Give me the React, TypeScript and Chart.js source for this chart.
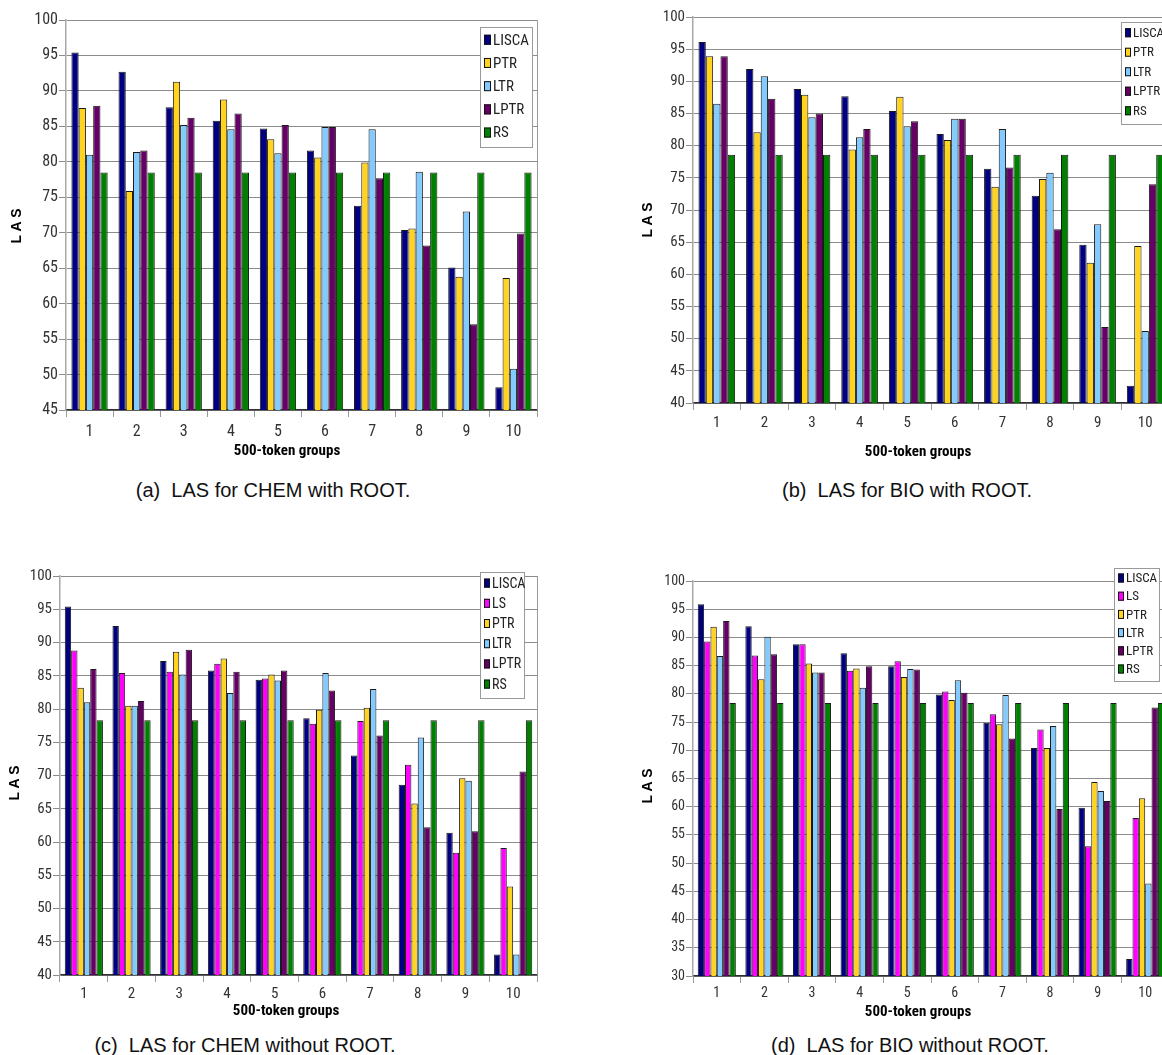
import React, { useEffect, useRef } from 'react';
import { Chart, registerables } from 'chart.js';

Chart.register(...registerables);

// ---------------- data ----------------
const CATEGORIES = ['1', '2', '3', '4', '5', '6', '7', '8', '9', '10'];

// (a) LAS for CHEM with ROOT
const A_LISCA = [95.4, 92.7, 87.7, 85.8, 84.7, 81.6, 73.8, 70.4, 65.1, 48.2];
const A_PTR = [87.6, 75.9, 91.3, 88.8, 83.2, 80.6, 79.9, 70.6, 63.8, 63.6];
const A_LTR = [81.0, 81.4, 85.2, 84.6, 81.2, 84.9, 84.6, 78.6, 73.0, 50.8];
const A_LPTR = [87.9, 81.6, 86.2, 86.8, 85.2, 84.9, 77.7, 68.2, 57.1, 69.9];
const A_RS = [78.5, 78.5, 78.5, 78.5, 78.5, 78.5, 78.5, 78.5, 78.5, 78.5];

// (b) LAS for BIO with ROOT
const B_LISCA = [96.1, 91.9, 88.8, 87.7, 85.4, 81.8, 76.4, 72.2, 64.6, 42.7];
const B_PTR = [93.9, 82.1, 87.9, 79.4, 87.6, 80.9, 73.6, 74.8, 61.8, 64.4];
const B_LTR = [86.5, 90.8, 84.4, 81.3, 83.0, 84.2, 82.6, 75.8, 67.8, 51.2];
const B_LPTR = [93.9, 87.3, 85.0, 82.6, 83.8, 84.2, 76.6, 67.0, 51.8, 74.0];
const B_RS = [78.6, 78.6, 78.6, 78.6, 78.6, 78.6, 78.6, 78.6, 78.6, 78.6];

// (c) LAS for CHEM without ROOT
const C_LISCA = [95.4, 92.5, 87.2, 85.8, 84.4, 78.6, 73.0, 68.6, 61.4, 43.1];
const C_LS = [88.8, 85.4, 85.6, 86.8, 84.6, 77.8, 78.2, 71.6, 58.4, 59.1];
const C_PTR = [83.2, 80.5, 88.6, 87.6, 85.2, 79.9, 80.2, 65.8, 69.6, 53.3];
const C_LTR = [81.0, 80.5, 85.2, 82.4, 84.3, 85.4, 83.0, 75.7, 69.2, 43.1];
const C_LPTR = [86.0, 81.2, 88.9, 85.6, 85.8, 82.8, 76.0, 62.2, 61.6, 70.6];
const C_RS = [78.3, 78.3, 78.3, 78.3, 78.3, 78.3, 78.3, 78.3, 78.3, 78.3];

// (d) LAS for BIO without ROOT
const D_LISCA = [95.9, 92.0, 88.8, 87.2, 84.9, 79.9, 74.9, 70.4, 59.8, 33.0];
const D_LS = [89.3, 86.8, 88.8, 84.1, 85.8, 80.4, 76.4, 73.7, 53.0, 58.0];
const D_PTR = [91.9, 82.6, 85.4, 84.5, 83.0, 78.9, 74.6, 70.4, 64.4, 61.5];
const D_LTR = [86.7, 90.1, 83.8, 81.1, 84.4, 82.4, 79.8, 74.3, 62.8, 46.4];
const D_LPTR = [92.9, 87.0, 83.8, 84.9, 84.3, 80.2, 72.1, 59.6, 61.0, 77.6];
const D_RS = [78.4, 78.4, 78.4, 78.4, 78.4, 78.4, 78.4, 78.4, 78.4, 78.4];

const Y_TITLE = 'LAS';
const X_TITLE = '500-token groups';
const CAPTIONS = [
  '(a)\u00a0 LAS for CHEM with ROOT.',
  '(b)\u00a0 LAS for BIO with ROOT.',
  '(c)\u00a0 LAS for CHEM without ROOT.',
  '(d)\u00a0 LAS for BIO without ROOT.',
];

// ---------------- styles ----------------
const COLORS: Record<string, string> = {
  LISCA: '#000080',
  LS: '#ff00ff',
  PTR: '#ffd320',
  LTR: '#83caff',
  LPTR: '#660066',
  RS: '#008000',
};

const NARROW = "'Roboto Condensed', 'Liberation Sans Narrow', 'Liberation Sans', sans-serif";
const SANS = "'Liberation Sans', Arial, Helvetica, sans-serif";

type Series = { label: string; data: number[] };

type Panel = {
  series: Series[];
  yMin: number;
  yMax: number;
  canvas: { left: number; top: number; width: number; height: number };
  plot: { left: number; top: number; right: number; bottom: number };
  catPct: number;
  tickFont: number;
  tickPad: number;
  yTitlePos: { x: number; y: number };
  xTitlePos: { x: number; y: number };
  legend: { x: number; y: number; w: number; h: number; row: number; font: number; mw: number; mh: number };
  caption: { text: string; cx: number; cy: number };
};

const PANELS: Panel[] = [
  {
    series: [
      { label: 'LISCA', data: A_LISCA },
      { label: 'PTR', data: A_PTR },
      { label: 'LTR', data: A_LTR },
      { label: 'LPTR', data: A_LPTR },
      { label: 'RS', data: A_RS },
    ],
    yMin: 45, yMax: 100,
    canvas: { left: 0, top: 0, width: 545, height: 470 },
    plot: { left: 66, top: 20, right: 537, bottom: 410 },
    catPct: 0.77, tickFont: 16, tickPad: 5,
    yTitlePos: { x: 17, y: 226 },
    xTitlePos: { x: 287, y: 451 },
    legend: { x: 480, y: 27, w: 52, h: 120, row: 23.2, font: 15, mw: 7, mh: 10 },
    caption: { text: CAPTIONS[0], cx: 273, cy: 490 },
  },
  {
    series: [
      { label: 'LISCA', data: B_LISCA },
      { label: 'PTR', data: B_PTR },
      { label: 'LTR', data: B_LTR },
      { label: 'LPTR', data: B_LPTR },
      { label: 'RS', data: B_RS },
    ],
    yMin: 40, yMax: 100,
    canvas: { left: 560, top: 0, width: 620, height: 470 },
    plot: { left: 693, top: 17, right: 1169, bottom: 403 },
    catPct: 0.77, tickFont: 15, tickPad: 4,
    yTitlePos: { x: 648, y: 220 },
    xTitlePos: { x: 918, y: 452 },
    legend: { x: 1121, y: 22, w: 52, h: 102, row: 19.5, font: 13, mw: 6, mh: 9 },
    caption: { text: CAPTIONS[1], cx: 907, cy: 490 },
  },
  {
    series: [
      { label: 'LISCA', data: C_LISCA },
      { label: 'LS', data: C_LS },
      { label: 'PTR', data: C_PTR },
      { label: 'LTR', data: C_LTR },
      { label: 'LPTR', data: C_LPTR },
      { label: 'RS', data: C_RS },
    ],
    yMin: 40, yMax: 100,
    canvas: { left: 0, top: 530, width: 545, height: 500 },
    plot: { left: 60, top: 576, right: 537, bottom: 975 },
    catPct: 0.8, tickFont: 15, tickPad: 3,
    yTitlePos: { x: 15, y: 783 },
    xTitlePos: { x: 286, y: 1011 },
    legend: { x: 480, y: 572, w: 44, h: 126, row: 20.2, font: 14, mw: 6, mh: 9 },
    caption: { text: CAPTIONS[2], cx: 245, cy: 1045 },
  },
  {
    series: [
      { label: 'LISCA', data: D_LISCA },
      { label: 'LS', data: D_LS },
      { label: 'PTR', data: D_PTR },
      { label: 'LTR', data: D_LTR },
      { label: 'LPTR', data: D_LPTR },
      { label: 'RS', data: D_RS },
    ],
    yMin: 30, yMax: 100,
    canvas: { left: 560, top: 530, width: 620, height: 500 },
    plot: { left: 693, top: 581, right: 1169, bottom: 976 },
    catPct: 0.8, tickFont: 14, tickPad: 2,
    yTitlePos: { x: 648, y: 786 },
    xTitlePos: { x: 918, y: 1012 },
    legend: { x: 1114, y: 568, w: 45, h: 113, row: 18.2, font: 13, mw: 6, mh: 9 },
    caption: { text: CAPTIONS[3], cx: 910, cy: 1045 },
  },
];

// ---------------- overlay plugin (titles, legend, frame) ----------------
const overlayPlugin = {
  id: 'overlay',
  afterDraw(chart: any, _args: any, opts: any) {
    const { ctx, chartArea } = chart;
    ctx.save();
    // right frame line
    ctx.strokeStyle = '#9a9a9a';
    ctx.lineWidth = 1;
    ctx.beginPath();
    ctx.moveTo(Math.round(chartArea.right) + 0.5, chartArea.top);
    ctx.lineTo(Math.round(chartArea.right) + 0.5, chartArea.bottom);
    ctx.stroke();

    // y title
    ctx.save();
    ctx.fillStyle = '#000';
    ctx.font = `bold 14px ${SANS}`;
    (ctx as any).letterSpacing = '3.5px';
    ctx.translate(opts.yTitle.x, opts.yTitle.y);
    ctx.rotate(-Math.PI / 2);
    ctx.textAlign = 'center';
    ctx.textBaseline = 'middle';
    ctx.fillText(opts.yTitle.text, 1.75, 0);
    ctx.restore();

    // x title
    ctx.fillStyle = '#000';
    ctx.font = `bold 15px ${NARROW}`;
    ctx.textAlign = 'center';
    ctx.textBaseline = 'middle';
    ctx.fillText(opts.xTitle.text, opts.xTitle.x, opts.xTitle.y);

    // legend
    const L = opts.legend;
    ctx.fillStyle = '#ffffff';
    ctx.fillRect(L.x, L.y, L.w, L.h);
    ctx.strokeStyle = '#9a9a9a';
    ctx.lineWidth = 1;
    ctx.strokeRect(Math.round(L.x) + 0.5, Math.round(L.y) + 0.5, L.w, L.h);
    ctx.font = `${L.font}px ${NARROW}`;
    ctx.textAlign = 'left';
    ctx.textBaseline = 'middle';
    chart.data.datasets.forEach((ds: any, i: number) => {
      const cy = L.y + L.row * (i + 0.55);
      const mx = L.x + 4;
      ctx.fillStyle = ds.backgroundColor;
      ctx.fillRect(mx, cy - L.mh / 2, L.mw, L.mh);
      ctx.strokeStyle = '#111';
      ctx.strokeRect(mx + 0.5, cy - L.mh / 2 + 0.5, L.mw - 1, L.mh - 1);
      ctx.fillStyle = '#222';
      ctx.fillText(ds.label, mx + L.mw + 2, cy + 1);
    });
    ctx.restore();
  },
};

function ChartPanel({ p }: { p: Panel }) {
  const ref = useRef<HTMLCanvasElement | null>(null);

  useEffect(() => {
    if (!ref.current) return;
    const c = p.canvas;
    const yAxisW = p.plot.left - c.left;
    const xAxisH = c.top + c.height - p.plot.bottom;
    const chart = new Chart(ref.current, {
      type: 'bar',
      data: {
        labels: CATEGORIES,
        datasets: p.series.map((s) => ({
          label: s.label,
          data: s.data,
          backgroundColor: COLORS[s.label],
          borderColor: '#1a1a1a',
          borderWidth: 1,
          barPercentage: 1,
          categoryPercentage: p.catPct,
        })),
      },
      options: {
        animation: false,
        responsive: false,
        devicePixelRatio: 1,
        layout: {
          padding: {
            top: p.plot.top - c.top,
            right: c.left + c.width - p.plot.right,
            left: 0,
            bottom: 0,
          },
        },
        plugins: {
          legend: { display: false },
          tooltip: { enabled: false },
          overlay: {
            yTitle: { text: Y_TITLE, x: p.yTitlePos.x - c.left, y: p.yTitlePos.y - c.top },
            xTitle: { text: X_TITLE, x: p.xTitlePos.x - c.left, y: p.xTitlePos.y - c.top },
            legend: { ...p.legend, x: p.legend.x - c.left, y: p.legend.y - c.top },
          },
        } as any,
        scales: {
          x: {
            afterFit: (s: any) => { s.height = xAxisH; },
            grid: {
              offset: true,
              drawOnChartArea: false,
              drawTicks: true,
              tickLength: 7,
              color: '#9a9a9a',
            },
            border: { color: '#303030', width: 1.5 },
            ticks: {
              padding: p.tickPad,
              color: '#333',
              font: { family: NARROW, size: p.tickFont },
            },
          },
          y: {
            min: p.yMin,
            max: p.yMax,
            afterFit: (s: any) => { s.width = yAxisW; },
            grid: {
              color: '#8c8c8c',
              drawTicks: true,
              tickLength: 7,
            },
            border: { color: '#a8a8a8', width: 1.5 },
            ticks: {
              stepSize: 5,
              padding: 1,
              color: '#333',
              font: { family: NARROW, size: p.tickFont },
            },
          },
        },
      },
      plugins: [overlayPlugin],
    } as any);
    return () => chart.destroy();
  }, [p]);

  return (
    <>
      <canvas
        ref={ref}
        width={p.canvas.width}
        height={p.canvas.height}
        style={{
          position: 'absolute',
          left: p.canvas.left,
          top: p.canvas.top,
          width: p.canvas.width,
          height: p.canvas.height,
        }}
      />
      <div
        style={{
          position: 'absolute',
          left: p.caption.cx - 250,
          top: p.caption.cy - 12,
          width: 500,
          height: 24,
          lineHeight: '24px',
          textAlign: 'center',
          fontFamily: SANS,
          fontSize: 20,
          color: '#111',
          whiteSpace: 'pre',
        }}
      >
        {p.caption.text}
      </div>
    </>
  );
}

export default function App() {
  return (
    <div
      style={{
        position: 'fixed',
        left: 0,
        top: 0,
        width: 1162,
        height: 1055,
        overflow: 'hidden',
        background: '#ffffff',
      }}
    >
      {PANELS.map((p, i) => (
        <ChartPanel key={i} p={p} />
      ))}
    </div>
  );
}
